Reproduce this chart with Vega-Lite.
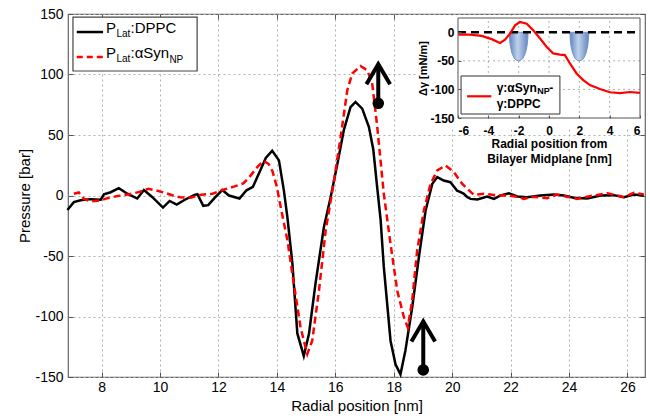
{
  "$schema": "https://vega.github.io/schema/vega-lite/v6.json",
  "width": 577,
  "height": 363,
  "autosize": {"type": "none"},
  "padding": {"left": 68, "top": 14, "right": 5, "bottom": 41},
  "background": "white",
  "config": {
    "font": "Liberation Sans",
    "view": {"stroke": "#666666", "strokeWidth": 1.2},
    "axis": {
      "labelFont": "Liberation Sans",
      "titleFont": "Liberation Sans",
      "labelColor": "#000000",
      "titleColor": "#000000",
      "titleFontWeight": "normal",
      "tickColor": "#555555",
      "domain": false,
      "labelExpr": "'' + datum.value"
    }
  },
  "datasets": {
    "dppc": [
      {"x": 6.83, "y": -12}, {"x": 7.05, "y": -5.5}, {"x": 7.28, "y": -4}, {"x": 7.62, "y": -3}, {"x": 7.97, "y": -3.5},
      {"x": 8.08, "y": 1}, {"x": 8.31, "y": 2.7}, {"x": 8.59, "y": 6}, {"x": 8.88, "y": 1.5}, {"x": 9.22, "y": -2.5},
      {"x": 9.45, "y": 4.5}, {"x": 9.73, "y": -1.2}, {"x": 10.1, "y": -10}, {"x": 10.33, "y": -4.5}, {"x": 10.57, "y": -7.5},
      {"x": 10.85, "y": -3.5}, {"x": 11.18, "y": 0.5}, {"x": 11.28, "y": 1}, {"x": 11.48, "y": -8.5}, {"x": 11.65, "y": -8},
      {"x": 11.87, "y": -2}, {"x": 12.13, "y": 4.5}, {"x": 12.36, "y": 0}, {"x": 12.72, "y": -2.5}, {"x": 12.96, "y": 4.3},
      {"x": 13.18, "y": 7.2}, {"x": 13.4, "y": 19}, {"x": 13.62, "y": 31}, {"x": 13.84, "y": 37}, {"x": 14.07, "y": 29},
      {"x": 14.24, "y": 4}, {"x": 14.36, "y": -18}, {"x": 14.53, "y": -56}, {"x": 14.7, "y": -114}, {"x": 14.92, "y": -132.6},
      {"x": 15.1, "y": -114}, {"x": 15.32, "y": -73}, {"x": 15.61, "y": -26}, {"x": 15.84, "y": -1.4}, {"x": 16.07, "y": 26},
      {"x": 16.29, "y": 54}, {"x": 16.52, "y": 73}, {"x": 16.69, "y": 77.3}, {"x": 16.92, "y": 71.8}, {"x": 17.15, "y": 56.6},
      {"x": 17.3, "y": 38}, {"x": 17.44, "y": 5}, {"x": 17.55, "y": -20}, {"x": 17.66, "y": -59}, {"x": 17.89, "y": -120},
      {"x": 18.06, "y": -139.5}, {"x": 18.23, "y": -147.8}, {"x": 18.4, "y": -128}, {"x": 18.63, "y": -92.6}, {"x": 18.86, "y": -51},
      {"x": 19.09, "y": -12.4}, {"x": 19.32, "y": 9.7}, {"x": 19.49, "y": 15.2}, {"x": 19.71, "y": 12.4}, {"x": 19.94, "y": 11},
      {"x": 20.17, "y": 4}, {"x": 20.29, "y": 2.8}, {"x": 20.4, "y": 1.4}, {"x": 20.52, "y": -1.4}, {"x": 20.63, "y": -2.8},
      {"x": 20.86, "y": -3.3}, {"x": 21.2, "y": -0.8}, {"x": 21.43, "y": -2.8}, {"x": 21.66, "y": 0}, {"x": 21.94, "y": 1.9},
      {"x": 22.23, "y": -0.8}, {"x": 22.57, "y": -1.4}, {"x": 23.02, "y": 0}, {"x": 23.48, "y": 0.8}, {"x": 23.82, "y": 0},
      {"x": 24.16, "y": -1.9}, {"x": 24.62, "y": -2.5}, {"x": 25.08, "y": 0}, {"x": 25.53, "y": 0.3}, {"x": 25.88, "y": -1.4},
      {"x": 26.22, "y": 0.8}, {"x": 26.56, "y": 0}
    ],
    "asyn": [
      {"x": 7.05, "y": 1.4}, {"x": 7.22, "y": 2.5}, {"x": 7.39, "y": -2.7}, {"x": 7.62, "y": -4.8}, {"x": 7.97, "y": -4},
      {"x": 8.2, "y": -2.2}, {"x": 8.54, "y": -0.5}, {"x": 8.95, "y": 1}, {"x": 9.3, "y": 3}, {"x": 9.6, "y": 5.5},
      {"x": 9.85, "y": 4.3}, {"x": 10.2, "y": 2}, {"x": 10.5, "y": -0.5}, {"x": 10.7, "y": -1.4}, {"x": 11.05, "y": -1.8},
      {"x": 11.42, "y": 0.7}, {"x": 11.8, "y": 1.5}, {"x": 12.2, "y": 5}, {"x": 12.55, "y": 7.5}, {"x": 12.85, "y": 10},
      {"x": 13.05, "y": 15}, {"x": 13.35, "y": 24}, {"x": 13.55, "y": 28.5}, {"x": 13.72, "y": 26}, {"x": 13.85, "y": 20},
      {"x": 14.0, "y": 7}, {"x": 14.15, "y": -12}, {"x": 14.36, "y": -37}, {"x": 14.58, "y": -73}, {"x": 14.81, "y": -109},
      {"x": 15.04, "y": -131}, {"x": 15.21, "y": -120}, {"x": 15.44, "y": -78.7}, {"x": 15.67, "y": -29}, {"x": 15.9, "y": 4},
      {"x": 16.18, "y": 48}, {"x": 16.41, "y": 87}, {"x": 16.58, "y": 100.8}, {"x": 16.86, "y": 107}, {"x": 17.09, "y": 103.6},
      {"x": 17.26, "y": 93}, {"x": 17.43, "y": 58}, {"x": 17.66, "y": 1.4}, {"x": 17.89, "y": -40}, {"x": 18.12, "y": -78.7},
      {"x": 18.35, "y": -100.8}, {"x": 18.48, "y": -109}, {"x": 18.63, "y": -87}, {"x": 18.8, "y": -45.6}, {"x": 19.03, "y": -12.4},
      {"x": 19.26, "y": 9.7}, {"x": 19.49, "y": 20.7}, {"x": 19.77, "y": 24.9}, {"x": 20.06, "y": 19.3}, {"x": 20.34, "y": 9.7},
      {"x": 20.52, "y": 5.5}, {"x": 20.74, "y": 0.6}, {"x": 21.08, "y": 1.4}, {"x": 21.43, "y": 0.5}, {"x": 21.88, "y": 0},
      {"x": 22.23, "y": -1}, {"x": 22.45, "y": -2.8}, {"x": 22.79, "y": -1}, {"x": 23.25, "y": -2.2}, {"x": 23.59, "y": 0.8},
      {"x": 23.94, "y": -1}, {"x": 24.28, "y": -2.8}, {"x": 24.62, "y": -1}, {"x": 24.85, "y": 0}, {"x": 25.31, "y": 1.9},
      {"x": 25.65, "y": 0}, {"x": 25.88, "y": -1.4}, {"x": 26.22, "y": 2.2}, {"x": 26.56, "y": 0.8}
    ],
    "arrows": [
      {"x": 17.47, "ybase": 76.2, "ytip": 108.5},
      {"x": 19.01, "ybase": -144.2, "ytip": -104}
    ],
    "inset": [
      {"x": -5.98, "y": -4}, {"x": -5.21, "y": -4}, {"x": -4.44, "y": -6.4}, {"x": -3.78, "y": -12}, {"x": -3.23, "y": -18.6},
      {"x": -2.9, "y": -13}, {"x": -2.57, "y": -2.4}, {"x": -2.24, "y": 12.2}, {"x": -1.91, "y": 18}, {"x": -1.47, "y": 15},
      {"x": -1.04, "y": 3.5}, {"x": -0.59, "y": -11}, {"x": -0.15, "y": -25.6}, {"x": 0.28, "y": -37}, {"x": 0.72, "y": -39},
      {"x": 1.05, "y": -40}, {"x": 1.38, "y": -54.6}, {"x": 1.82, "y": -72}, {"x": 2.26, "y": -83.7}, {"x": 2.7, "y": -92.4},
      {"x": 3.36, "y": -99.4}, {"x": 4.02, "y": -105}, {"x": 4.68, "y": -106.6}, {"x": 5.34, "y": -104.5}, {"x": 6.0, "y": -106}
    ],
    "blobs": [
      {"b": "L", "x": -2.62, "y": 0}, {"b": "L", "x": -2.6, "y": -12}, {"b": "L", "x": -2.55, "y": -24}, {"b": "L", "x": -2.45, "y": -36},
      {"b": "L", "x": -2.3, "y": -45}, {"b": "L", "x": -2.15, "y": -49}, {"b": "L", "x": -2.0, "y": -50}, {"b": "L", "x": -1.85, "y": -49},
      {"b": "L", "x": -1.7, "y": -45}, {"b": "L", "x": -1.55, "y": -36}, {"b": "L", "x": -1.45, "y": -24}, {"b": "L", "x": -1.4, "y": -12},
      {"b": "L", "x": -1.38, "y": 0},
      {"b": "R", "x": 1.38, "y": 0}, {"b": "R", "x": 1.4, "y": -12}, {"b": "R", "x": 1.45, "y": -24}, {"b": "R", "x": 1.55, "y": -36},
      {"b": "R", "x": 1.7, "y": -45}, {"b": "R", "x": 1.85, "y": -49}, {"b": "R", "x": 2.0, "y": -50}, {"b": "R", "x": 2.15, "y": -49},
      {"b": "R", "x": 2.3, "y": -45}, {"b": "R", "x": 2.45, "y": -36}, {"b": "R", "x": 2.55, "y": -24}, {"b": "R", "x": 2.6, "y": -12},
      {"b": "R", "x": 2.62, "y": 0}
    ]
  },
  "layer": [
    {
      "layer": [
        {
          "data": {"name": "dppc"},
          "mark": {"type": "line", "color": "#000000", "strokeWidth": 2.5},
          "encoding": {
            "x": {
              "field": "x", "type": "quantitative",
              "scale": {"domain": [6.85, 26.6], "nice": false, "zero": false},
              "axis": {
                "orient": "bottom", "values": [8, 10, 12, 14, 16, 18, 20, 22, 24, 26],
                "grid": true, "gridDash": [2, 3], "gridColor": "#b0b0b0", "gridWidth": 1,
                "tickSize": -5, "labelPadding": 8, "labelFontSize": 14,
                "title": "Radial position [nm]", "titleFontSize": 15, "titlePadding": 4
              }
            },
            "y": {
              "field": "y", "type": "quantitative",
              "scale": {"domain": [-150, 150], "nice": false, "zero": false},
              "axis": {
                "orient": "left", "values": [-150, -100, -50, 0, 50, 100, 150],
                "grid": true, "gridDash": [2, 3], "gridColor": "#b0b0b0", "gridWidth": 1,
                "tickSize": -5, "labelPadding": 10, "labelFontSize": 14,
                "title": "Pressure [bar]", "titleFontSize": 15, "titlePadding": 2
              }
            }
          }
        },
        {
          "data": {"name": "asyn"},
          "mark": {"type": "line", "color": "#ff0000", "strokeWidth": 2.5, "strokeDash": [7, 4]},
          "encoding": {
            "x": {"field": "x", "type": "quantitative", "axis": null},
            "y": {"field": "y", "type": "quantitative", "axis": null}
          }
        },
        {
          "data": {"name": "arrows"},
          "mark": {"type": "rule", "color": "#000000", "strokeWidth": 4},
          "encoding": {
            "x": {
              "field": "x", "type": "quantitative",
              "axis": {"orient": "top", "values": [8, 10, 12, 14, 16, 18, 20, 22, 24, 26], "labels": false, "grid": false, "tickSize": -5, "title": null}
            },
            "y": {
              "field": "ybase", "type": "quantitative",
              "axis": {"orient": "right", "values": [-150, -100, -50, 0, 50, 100, 150], "labels": false, "grid": false, "tickSize": -5, "title": null}
            },
            "y2": {"field": "ytip"}
          }
        },
        {
          "data": {"name": "arrows"},
          "mark": {"type": "point", "shape": "circle", "filled": true, "color": "#000000", "size": 135, "opacity": 1},
          "encoding": {
            "x": {"field": "x", "type": "quantitative", "axis": null},
            "y": {"field": "ybase", "type": "quantitative", "axis": null}
          }
        },
        {
          "data": {"name": "arrows"},
          "mark": {"type": "point", "shape": "M -1 1.7 L 0 0 L 1 1.7", "filled": false, "color": "#000000", "size": 560, "strokeWidth": 4, "strokeJoin": "miter", "opacity": 1},
          "encoding": {
            "x": {"field": "x", "type": "quantitative", "axis": null},
            "y": {"field": "ytip", "type": "quantitative", "axis": null}
          }
        },
        {
          "data": {"values": [{"x": 7.02, "x2": 11.27, "y": 147.5, "y2": 102.9}]},
          "mark": {"type": "rect", "fill": "#ffffff", "stroke": "#444444", "strokeWidth": 1.2},
          "encoding": {
            "x": {"field": "x", "type": "quantitative", "axis": null},
            "x2": {"field": "x2"},
            "y": {"field": "y", "type": "quantitative", "axis": null},
            "y2": {"field": "y2"}
          }
        },
        {
          "data": {"values": [{"x": 7.15, "x2": 8.05, "y": 135.1}]},
          "mark": {"type": "rule", "color": "#000000", "strokeWidth": 2.5},
          "encoding": {
            "x": {"field": "x", "type": "quantitative", "axis": null},
            "x2": {"field": "x2"},
            "y": {"field": "y", "type": "quantitative", "axis": null}
          }
        },
        {
          "data": {"values": [{"x": 7.15, "x2": 8.05, "y": 114.5}]},
          "mark": {"type": "rule", "color": "#ff0000", "strokeWidth": 2.5, "strokeDash": [6, 4]},
          "encoding": {
            "x": {"field": "x", "type": "quantitative", "axis": null},
            "x2": {"field": "x2"},
            "y": {"field": "y", "type": "quantitative", "axis": null}
          }
        },
        {
          "data": {"values": [
            {"x": 8.15, "y": 134.3, "t": "P"}, {"x": 8.99, "y": 134.3, "t": ":DPPC"},
            {"x": 8.15, "y": 113.6, "t": "P"}, {"x": 8.99, "y": 113.6, "t": ":αSyn"}
          ]},
          "mark": {"type": "text", "align": "left", "baseline": "alphabetic", "fontSize": 15, "font": "Liberation Sans", "color": "#000000"},
          "encoding": {
            "x": {"field": "x", "type": "quantitative", "axis": null},
            "y": {"field": "y", "type": "quantitative", "axis": null},
            "text": {"field": "t"}
          }
        },
        {
          "data": {"values": [
            {"x": 8.51, "y": 131, "t": "Lat"}, {"x": 8.51, "y": 110.3, "t": "Lat"}, {"x": 10.32, "y": 109.5, "t": "NP"}
          ]},
          "mark": {"type": "text", "align": "left", "baseline": "alphabetic", "fontSize": 10, "font": "Liberation Sans", "color": "#000000"},
          "encoding": {
            "x": {"field": "x", "type": "quantitative", "axis": null},
            "y": {"field": "y", "type": "quantitative", "axis": null},
            "text": {"field": "t"}
          }
        }
      ],
      "resolve": {"axis": {"x": "independent", "y": "independent"}}
    },
    {
      "layer": [
        {
          "data": {"values": [{"x": -8.7, "x2": 6.1, "y": -167, "y2": 30}]},
          "mark": {"type": "rect", "fill": "#ffffff", "strokeWidth": 0},
          "encoding": {
            "x": {
              "field": "x", "type": "quantitative",
              "scale": {"domain": [-6, 6], "range": [390, 572], "nice": false, "zero": false},
              "axis": {
                "orient": "bottom", "offset": -259, "values": [-6, -4, -2, 0, 2, 4, 6],
                "grid": false, "tickSize": -3, "labelPadding": 10, "labelFontSize": 12, "labelFontWeight": "bold",
                "title": ["Radial position from", "Bilayer Midplane [nm]"], "titleFontSize": 12, "titleFontWeight": "bold",
                "titlePadding": 2, "titleLineHeight": 15, "zindex": 1
              }
            },
            "x2": {"field": "x2"},
            "y": {
              "field": "y", "type": "quantitative",
              "scale": {"domain": [-150, 25], "range": [104, 4], "nice": false, "zero": false},
              "axis": {
                "orient": "left", "offset": -390, "values": [-150, -100, -50, 0],
                "grid": false, "tickSize": -3, "labelPadding": 7, "labelFontSize": 12, "labelFontWeight": "bold",
                "title": "Δγ [mN/m]", "titleFontSize": 11, "titleFontWeight": "bold", "titlePadding": 1, "zindex": 1
              }
            },
            "y2": {"field": "y2"}
          }
        },
        {
          "data": {"values": [{"gx": -4}, {"gx": -2}, {"gx": 0}, {"gx": 2}, {"gx": 4}]},
          "mark": {"type": "rule", "color": "#b0b0b0", "strokeWidth": 1, "strokeDash": [2, 3]},
          "encoding": {
            "x": {"field": "gx", "type": "quantitative"},
            "y": {"datum": -150},
            "y2": {"datum": 25}
          }
        },
        {
          "data": {"values": [{"gy": -100}, {"gy": -50}]},
          "mark": {"type": "rule", "color": "#b0b0b0", "strokeWidth": 1, "strokeDash": [2, 3]},
          "encoding": {
            "y": {"field": "gy", "type": "quantitative"},
            "x": {"datum": -6},
            "x2": {"datum": 6}
          }
        },
        {
          "data": {"name": "blobs"},
          "mark": {
            "type": "area",
            "fill": {
              "gradient": "linear", "x1": 0, "x2": 1, "y1": 0, "y2": 0,
              "stops": [
                {"offset": 0, "color": "#5a80bb"},
                {"offset": 0.45, "color": "#bcd0ec"},
                {"offset": 1, "color": "#5a80bb"}
              ]
            },
            "stroke": "#6a8fc4", "strokeWidth": 1, "opacity": 0.95
          },
          "encoding": {
            "x": {"field": "x", "type": "quantitative"},
            "y": {"field": "y", "type": "quantitative"},
            "y2": {"datum": 0},
            "detail": {"field": "b"}
          }
        },
        {
          "data": {"values": [{}]},
          "mark": {"type": "rule", "color": "#000000", "strokeWidth": 2.5, "strokeDash": [8, 5]},
          "encoding": {
            "x": {"datum": -6},
            "x2": {"datum": 6},
            "y": {"datum": 0}
          }
        },
        {
          "data": {"name": "inset"},
          "mark": {"type": "line", "color": "#ff0000", "strokeWidth": 2.2},
          "encoding": {
            "x": {"field": "x", "type": "quantitative"},
            "y": {"field": "y", "type": "quantitative"}
          }
        },
        {
          "data": {"values": [{}]},
          "mark": {"type": "rect", "fill": null, "fillOpacity": 0, "stroke": "#555555", "strokeWidth": 1},
          "encoding": {
            "x": {"datum": -6},
            "x2": {"datum": 6},
            "y": {"datum": -150},
            "y2": {"datum": 25}
          }
        },
        {
          "data": {"values": [{"x": -5.8, "x2": 0.72, "y": -76.5, "y2": -143}]},
          "mark": {"type": "rect", "fill": "#ffffff", "stroke": "#333333", "strokeWidth": 1},
          "encoding": {
            "x": {"field": "x", "type": "quantitative"},
            "x2": {"field": "x2"},
            "y": {"field": "y", "type": "quantitative"},
            "y2": {"field": "y2"}
          }
        },
        {
          "data": {"values": [{"x": -5.4, "x2": -3.8, "y": -112}]},
          "mark": {"type": "rule", "color": "#ff0000", "strokeWidth": 2.2},
          "encoding": {
            "x": {"field": "x", "type": "quantitative"},
            "x2": {"field": "x2"},
            "y": {"field": "y", "type": "quantitative"}
          }
        },
        {
          "data": {"values": [
            {"x": -3.45, "y": -97, "t": "γ:αSyn"}, {"x": 0.02, "y": -97, "t": "-"}, {"x": -3.45, "y": -126, "t": "γ:DPPC"}
          ]},
          "mark": {"type": "text", "align": "left", "baseline": "middle", "fontSize": 12, "fontWeight": "bold", "font": "Liberation Sans", "color": "#000000"},
          "encoding": {
            "x": {"field": "x", "type": "quantitative"},
            "y": {"field": "y", "type": "quantitative"},
            "text": {"field": "t"}
          }
        },
        {
          "data": {"values": [{"x": -0.78, "y": -102, "t": "NP"}]},
          "mark": {"type": "text", "align": "left", "baseline": "middle", "fontSize": 9, "fontWeight": "bold", "font": "Liberation Sans", "color": "#000000"},
          "encoding": {
            "x": {"field": "x", "type": "quantitative"},
            "y": {"field": "y", "type": "quantitative"},
            "text": {"field": "t"}
          }
        }
      ]
    }
  ],
  "resolve": {"scale": {"x": "independent", "y": "independent"}, "axis": {"x": "independent", "y": "independent"}}
}
